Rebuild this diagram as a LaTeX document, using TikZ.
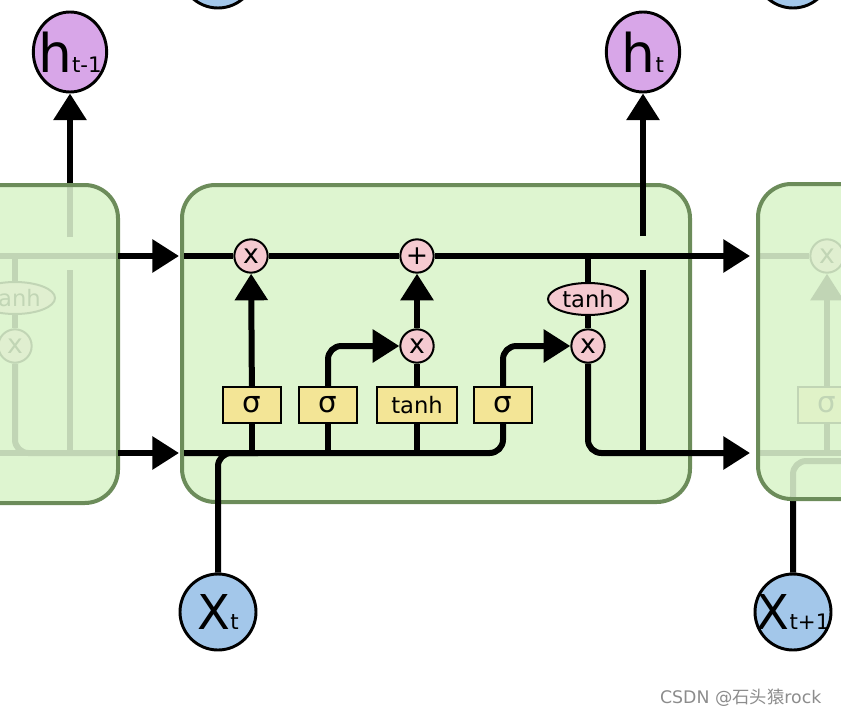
\documentclass[tikz,border=0pt]{standalone}
\usepackage{fontspec}
\setmainfont{DejaVu Sans}
\newfontfamily\cjkfont{Noto Sans CJK SC}
\usetikzlibrary{arrows.meta,shapes.geometric}

\definecolor{cellfill}{RGB}{222,245,208}
\definecolor{cellline}{RGB}{108,140,90}
\definecolor{opfill}{RGB}{245,202,208}
\definecolor{gatefill}{RGB}{243,229,150}
\definecolor{hfill}{RGB}{216,166,232}
\definecolor{xfill}{RGB}{163,199,234}

\begin{document}
\begin{tikzpicture}[x=0.75pt,y=0.75pt,yscale=-1,xscale=1,
	cellbox/.style={draw=cellline,line width=3pt,rounded corners=25pt},
	flow/.style={line width=4.5pt,rounded corners=10pt},
	flowarr/.style={flow,-{Triangle[length=20pt,width=24pt]}},
	pointop/.style={circle,draw,line width=1.5pt,fill=opfill,minimum size=25pt,inner sep=-4pt,font=\fontsize{20}{20}\selectfont},
	gatebox/.style={rectangle,draw,line width=1.5pt,fill=gatefill,minimum height=27pt,minimum width=43pt,inner sep=0pt,font=\fontsize{22}{22}\selectfont},
	tanhop/.style={ellipse,draw,line width=1.5pt,fill=opfill,minimum width=60pt,minimum height=24pt,inner sep=-6pt,font=\fontsize{17}{17}\selectfont},
	hcirc/.style={ellipse,draw,line width=2.2pt,fill=hfill,minimum width=55pt,minimum height=60pt,inner sep=-14pt},
	xcirc/.style={ellipse,draw,line width=2.2pt,fill=xfill,minimum width=57pt,minimum height=57pt,inner sep=-14pt}
	]
	\useasboundingbox (0,0) rectangle (841,717);
	\clip (0,0) rectangle (841,717);
	
	% Text Node
	\node[hcirc] (htprev) at (70,52) {{\fontsize{40}{40}\selectfont h}{\fontsize{16}{16}\selectfont t-1}};
	% Text Node
	\node[hcirc] (ht) at (643,52) {{\fontsize{40}{40}\selectfont h}{\fontsize{16}{16}\selectfont t}};
	% Text Node
	\node[xcirc] (xt) at (218,612) {{\fontsize{36}{36}\selectfont X}{\fontsize{16}{16}\selectfont t}};
	% Text Node
	\node[xcirc] (xtnext) at (793,612) {{\fontsize{36}{36}\selectfont X}{\fontsize{16}{16}\selectfont t+1}};
	% Text Node
	\node[xcirc] (xtop) at (218,-30) {};
	\node[xcirc] (xtopnext) at (793,-30) {};
	
	%Left cell (faded)
	\fill[cellfill,rounded corners=25pt] (-60,185) rectangle (118,503);
	\node[tanhop] (ltanh) at (15,298) {tanh};
	\node[pointop] (lgate) at (15,346) {x};
	\draw[flow] (-20,256) -- (118,256);
	\draw[flow] (ltanh) -- (ltanh |- 0,256);
	\draw[flow] (ltanh) -- (lgate);
	\draw[flow] (lgate) -- (15,453) -- (118,453);
	\draw[flow] (-20,453) -- (118,453);
	\draw[flow] (70,270) -- (70,453);
	\draw[flowarr] (70,237) -- (htprev);
	\fill[cellfill,fill opacity=0.87,rounded corners=25pt] (-60,185) rectangle (118,503);
	\draw[cellbox] (-60,185) rectangle (118,503);
	
	%Right cell (faded)
	\fill[cellfill,rounded corners=25pt] (758,184) rectangle (950,499);
	\node[pointop] (rgate) at (827,256) {x};
	\node[gatebox] (rsig) at (827,405) {σ};
	\draw[flow] (758,256) -- (rgate) -- (860,256);
	\draw[flow] (758,453) -- (860,453);
	\draw[flow] (rsig |- 0,453) -- (rsig);
	\draw[flowarr] (rsig) -- (rgate);
	\draw[flow] (xtnext) -- (793,461) -- (860,461);
	\fill[cellfill,fill opacity=0.87,rounded corners=25pt] (758,184) rectangle (950,499);
	\draw[cellbox] (758,184) rectangle (950,499);
	
	%Center cell
	\draw[cellbox,fill=cellfill] (182,185) rectangle (690,502);
	\node[pointop] (fgate) at (251,256) {x};
	\node[pointop] (addop) at (417,256) {+};
	\node[pointop] (igate) at (417,346) {x};
	\node[tanhop] (otanh) at (588,299) {tanh};
	\node[pointop] (ogate) at (588,346) {x};
	\node[gatebox] (sig1) at (252,405) {σ};
	\node[gatebox] (sig2) at (328,405) {σ};
	\node[gatebox,minimum width=60pt,font=\fontsize{17}{17}\selectfont] (tanhbox) at (417,405) {tanh};
	\node[gatebox] (sig3) at (503,405) {σ};
	
	\coordinate (cL) at (118,256);
	\coordinate (cA) at (179,256);
	\coordinate (cB) at (184,256);
	\coordinate (cE) at (750,256);
	\coordinate (hL) at (118,453);
	\coordinate (hA) at (179,453);
	\coordinate (hB) at (184,453);
	\coordinate (hE) at (750,453);
	
	%Cell state
	\draw[flowarr] (cL) -- (cA);
	\draw[flow] (cB) -- (fgate);
	\draw[flow] (fgate) -- (addop);
	\draw[flowarr] (addop) -- (cE);
	\draw[flow] (otanh |- cB) -- (otanh);
	\draw[flow] (otanh) -- (ogate);
	
	%Hidden state
	\draw[flowarr] (hL) -- (hA);
	\draw[flow] (hB) -- (sig3 |- hB) -- (sig3);
	\draw[flow] (xt) -- (xt |- hB) -- ++(40,0);
	\draw[flow] (sig1 |- hB) -- (sig1);
	\draw[flow] (sig2 |- hB) -- (sig2);
	\draw[flow] (tanhbox |- hB) -- (tanhbox);
	
	%Gates
	\draw[flowarr] (sig1) -- (fgate);
	\draw[flowarr] (sig2) -- (sig2 |- igate) -- (igate);
	\draw[flow] (tanhbox) -- (igate);
	\draw[flowarr] (igate) -- (addop);
	\draw[flowarr] (sig3) -- (sig3 |- ogate) -- (ogate);
	\draw[flowarr] (ogate) -- (ogate |- hE) -- (hE);
	\draw[flow] (643,270) -- (643,453);
	\draw[flowarr] (643,236) -- (ht);
	
	% Text Node
	\node[text=black!45,font=\fontsize{13}{13}\selectfont,anchor=east] (mark) at (826,698) {CSDN @{\cjkfont 石头猿}rock};
\end{tikzpicture}
\end{document}
